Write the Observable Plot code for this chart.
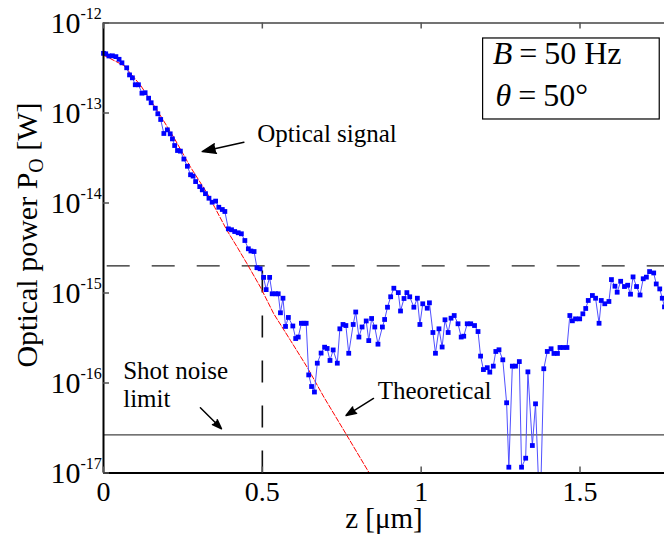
<!DOCTYPE html>
<html><head><meta charset="utf-8">
<script src="https://cdn.jsdelivr.net/npm/d3@7"></script>
<script src="https://cdn.jsdelivr.net/npm/@observablehq/plot@0.6"></script>
<style>
html,body{margin:0;padding:0;background:#fff;overflow:hidden;}
#chart{width:664px;height:534px;}
</style></head><body><div id="chart"></div>
<script>
// ---- data ----
const zMeasured = [0,0.007,0.017,0.028,0.039,0.049,0.058,0.073,0.082,0.091,0.100,0.110,0.121,0.131,0.142,0.150,0.163,0.171,0.180,0.190,
0.201,0.210,0.217,0.224,0.233,0.242,0.253,0.264,0.274,0.282,0.290,0.303,0.311,0.321,0.332,0.342,0.353,0.363,0.374,0.382,
0.393,0.403,0.413,0.424,0.434,0.445,0.456,0.464,0.474,0.483,0.493,0.504,0.512,0.523,0.531,0.542,0.550,0.557,0.565,0.573,
0.582,0.596,0.605,0.613,0.623,0.631,0.638,0.646,0.655,0.664,0.673,0.685,0.696,0.704,0.713,0.723,0.736,0.744,0.754,0.763,
0.772,0.786,0.794,0.804,0.814,0.827,0.835,0.844,0.854,0.864,0.878,0.885,0.894,0.904,0.914,0.928,0.935,0.946,0.955,0.964,
0.977,0.988,0.996,1.005,1.019,1.026,1.037,1.045,1.056,1.066,1.075,1.085,1.094,1.104,1.116,1.126,1.134,1.145,1.156,1.168,
1.179,1.187,1.196,1.208,1.216,1.227,1.235,1.245,1.257,1.269,1.276,1.287,1.297,1.309,1.316,1.329,1.336,1.350,1.360,1.374,
1.386,1.397,1.409,1.418,1.429,1.437,1.447,1.459,1.468,1.476,1.486,1.499,1.509,1.518,1.526,1.539,1.549,1.560,1.567,1.578,
1.591,1.599,1.610,1.617,1.628,1.640,1.650,1.659,1.667,1.678,1.689,1.699,1.709,1.719,1.732,1.740,1.751,1.759,1.766];
const pMeasured = [4.6e-13,4.55e-13,4.3e-13,4.32e-13,4.23e-13,3.95e-13,3.61e-13,3.18e-13,2.65e-13,2.46e-13,2.06e-13,2.06e-13,1.66e-13,1.68e-13,1.46e-13,1.30e-13,1.13e-13,9.8e-14,8.47e-14,5.92e-14,
6.5e-14,5.87e-14,5.16e-14,4.35e-14,3.83e-14,3.77e-14,3.08e-14,2.56e-14,2.06e-14,1.99e-14,1.73e-14,1.52e-14,1.40e-14,1.27e-14,1.13e-14,1.02e-14,1.05e-14,8.97e-15,8.47e-15,8.05e-15,
5.16e-15,5.04e-15,4.82e-15,4.67e-15,4.55e-15,3.83e-15,3.10e-15,2.93e-15,2.89e-15,1.91e-15,1.86e-15,1.49e-15,1.09e-15,1.49e-15,9.8e-16,9.8e-16,9.8e-16,6.03e-16,8.75e-16,4.25e-16,
5.35e-16,4.30e-16,3.12e-16,3.24e-16,4.61e-16,4.61e-16,4.61e-16,1.23e-16,9.14e-17,7.94e-17,1.66e-16,2.15e-16,2.50e-16,2.42e-16,1.78e-16,2.33e-16,1.66e-16,4.0e-16,4.47e-16,4.35e-16,
2.14e-16,4.47e-16,6.15e-16,3.24e-16,4.19e-16,4.89e-16,2.96e-16,5.21e-16,4.19e-16,2.70e-16,4.19e-16,5.08e-16,6.95e-16,9.08e-16,1.13e-15,1.01e-15,6.31e-16,8.69e-16,1.01e-15,9.08e-16,
6.95e-16,8.75e-16,4.47e-16,7.59e-16,6.78e-16,7.78e-16,3.64e-16,2.14e-16,4.0e-16,2.51e-16,5.04e-16,3.64e-16,5.25e-16,5.62e-16,4.55e-16,3.24e-16,3.31e-16,4.55e-16,4.55e-16,4.35e-16,
3.73e-16,1.99e-16,1.41e-16,1.48e-16,1.32e-16,1.54e-16,2.24e-16,2.34e-16,1.81e-16,6.03e-17,1.16e-17,1.54e-16,1.54e-16,1.73e-16,1.16e-17,1.46e-17,1.33e-16,2.02e-17,5.87e-17,3e-18,
1.44e-16,2.24e-16,2.40e-16,2.13e-16,2.13e-16,2.48e-16,2.48e-16,2.48e-16,5.62e-16,4.91e-16,5.16e-16,5.16e-16,5.87e-16,6.73e-16,8.26e-16,9.38e-16,8.75e-16,4.61e-16,8.26e-16,7.59e-16,
8.05e-16,1.41e-15,1.19e-15,1.02e-15,1.35e-15,1.18e-15,1.22e-15,9.7e-16,1.51e-15,1.18e-15,9.5e-16,1.44e-15,1.50e-15,1.73e-15,1.67e-15,1.26e-15,1.11e-15,8.75e-16,7.03e-16];

const zTheory = [0,0.064,0.117,0.169,0.221,0.274,0.327,0.350,0.389,0.421,0.452,0.494,0.536,0.589,0.641,0.694,0.763,0.838];
const pTheory = [4.4e-13,3.37e-13,2.02e-13,1.07e-13,5.38e-14,2.5e-14,1.27e-14,8.97e-15,4.94e-15,3.23e-15,2.11e-15,1.16e-15,5.87e-16,2.96e-16,1.5e-16,6.95e-17,2.73e-17,9.8e-18];

const yTicks = [1e-12,1e-13,1e-14,1e-15,1e-16,1e-17];
const yTickExp = ["-12","-13","-14","-15","-16","-17"];
const xTicks = [0,0.5,1,1.5];
const xTickLabels = ["0","0.5","1","1.5"];

const detectionLevel = 2e-15;
const shotNoiseLevel = 2.65e-17;
const zMark = 0.5;

const xTitle = "z [μm]";
const yTitle = "Optical power PO [W]";

const annoText = ["Optical signal","Theoretical","Shot noise","limit"];
const annoZ = [0.484,0.863,0.062,0.062];
const annoP = [4.74e-14,6.56e-17,1.12e-16,5.48e-17];

const arrowZ1 = [0.442,0.850,0.305];
const arrowP1 = [4.74e-14,6.73e-17,5.3e-17];
const arrowZ2 = [0.311,0.7635,0.3715];
const arrowP2 = [3.73e-14,4.35e-17,3.10e-17];

const legendLines = ["B = 50 Hz","θ = 50°"];
const legendZ = [1.225,1.234];
const legendP = [3.46e-13,1.2e-13];
const legendBoxZ = [1.195,1.751];
const legendBoxP = [6.73e-13,8.47e-14];

// ---- build ----
const SERIF = "'Liberation Serif','Times New Roman',Times,serif";
const W=664, H=534, ML=103, MR=0, MT=22.5, MB=61.5;
const innerW=W-ML-MR, innerH=H-MT-MB;

const measured = zMeasured.map((z,i)=>({z, p:pMeasured[i]}));
const theory = zTheory.map((z,i)=>({z, p:pTheory[i]}));
const annos = annoText.map((t,i)=>({t, z:annoZ[i], p:annoP[i]}));
const arrows = arrowZ1.map((z,i)=>({z1:z, p1:arrowP1[i], z2:arrowZ2[i], p2:arrowP2[i]}));
const legend = legendLines.map((t,i)=>({t, z:legendZ[i], p:legendP[i]}));

const plot = Plot.plot({
  width:W, height:H, marginLeft:ML, marginRight:MR, marginTop:MT, marginBottom:MB,
  style:{fontFamily:SERIF, background:"#fff", color:"#000", overflow:"visible"},
  x:{domain:[0,1.766], axis:null},
  y:{type:"log", domain:[1e-17,1e-12], axis:null},
  marks:[
    Plot.ruleY([detectionLevel], {y:d=>d, stroke:"#222", strokeWidth:1.3, strokeDasharray:"23,22", strokeDashoffset:41.3}),
    Plot.ruleX([zMark], {x:d=>d, y1:()=>1e-17, y2:()=>detectionLevel, stroke:"#111", strokeWidth:1.6, strokeDasharray:"22,23"}),
    Plot.ruleY([shotNoiseLevel], {y:d=>d, stroke:"#444", strokeWidth:1.3}),
    Plot.line(theory, {x:"z", y:"p", stroke:"#ff0000", strokeWidth:1, strokeDasharray:"5,2", clip:true}),
    Plot.line(measured, {x:"z", y:"p", stroke:"#5050ff", strokeWidth:1, clip:true}),
    Plot.dot(measured, {x:"z", y:"p", filter:d=>d.p>=1e-17, symbol:"square", r:2.7, fill:"#0000ff", stroke:null}),
    // frame
    Plot.ruleY([1e-12], {y:d=>d, stroke:"#444", strokeWidth:1.5}),
    Plot.ruleX([0], {x:d=>d, stroke:"#000", strokeWidth:2}),
    Plot.ruleY([1e-17], {y:d=>d, stroke:"#000", strokeWidth:2}),
    // inward ticks
    Plot.tickX(xTicks, {x:d=>d, insetTop:innerH-6, stroke:"#555", strokeWidth:1.5}),
    Plot.tickX(xTicks, {x:d=>d, insetBottom:innerH-6, stroke:"#555", strokeWidth:1.5}),
    Plot.tickY(yTicks, {y:d=>d, insetRight:innerW-6, stroke:"#555", strokeWidth:1.5}),
    // tick labels
    Plot.text(xTicks, {x:d=>d, y:()=>1e-17, text:(d,i)=>xTickLabels[i], dy:19, fontSize:28, lineAnchor:"middle", fill:"#000"}),
    Plot.text(yTicks, {x:()=>0, y:d=>d, text:()=>"10", textAnchor:"end", dx:-23, fontSize:30, lineAnchor:"middle", fill:"#000"}),
    Plot.text(yTicks, {x:()=>0, y:d=>d, text:(d,i)=>yTickExp[i], textAnchor:"start", dx:-23, dy:-9, fontSize:16, lineAnchor:"middle", fill:"#000"}),
    // titles
    Plot.text([xTitle], {frameAnchor:"bottom", text:d=>d, dy:46, fontSize:29, lineAnchor:"middle", fill:"#000"}),
    Plot.text([yTitle], {frameAnchor:"left", text:d=>d, rotate:-90, textAnchor:"middle", dx:-76, dy:-13, fontSize:30, lineAnchor:"middle", fill:"#000", ariaDescription:"ytitle"}),
    // annotations
    Plot.text(annos, {x:"z", y:"p", text:"t", textAnchor:"start", lineAnchor:"bottom", fontSize:25, fill:"#000"}),
    Plot.arrow(arrows, {x1:"z1", y1:"p1", x2:"z2", y2:"p2", stroke:"#000", fill:"#000", strokeWidth:1.5, headLength:16, headAngle:40}),
    // legend box
    Plot.rect([0], {x1:()=>legendBoxZ[0], x2:()=>legendBoxZ[1], y1:()=>legendBoxP[0], y2:()=>legendBoxP[1], fill:"#fff", stroke:"#000", strokeWidth:1.2}),
    Plot.text(legend, {x:"z", y:"p", text:"t", textAnchor:"start", lineAnchor:"bottom", fontSize:32, fill:"#000", ariaDescription:"legendtext"})
  ]
});
document.getElementById("chart").appendChild(plot);

// rich text: subscript in y title, italic symbols in legend
const yt = d3.select(plot).select('g[aria-description="ytitle"] text');
yt.text(null);
yt.append("tspan").text("Optical power P");
yt.append("tspan").attr("font-size", 20).attr("dy", 6).text("O");
yt.append("tspan").attr("dy", -6).text(" [W]");

d3.select(plot).selectAll('g[aria-description="legendtext"] text').each(function(d, i) {
  const t = d3.select(this);
  const sym = i === 0 ? "B" : "θ";
  const rest = i === 0 ? "50 Hz" : "50°";
  t.text(null);
  t.append("tspan").attr("font-style", "italic").text(sym);
  t.append("tspan").attr("dx", 7).text("=");
  t.append("tspan").attr("dx", 7).text(rest);
});
</script>
</body></html>
